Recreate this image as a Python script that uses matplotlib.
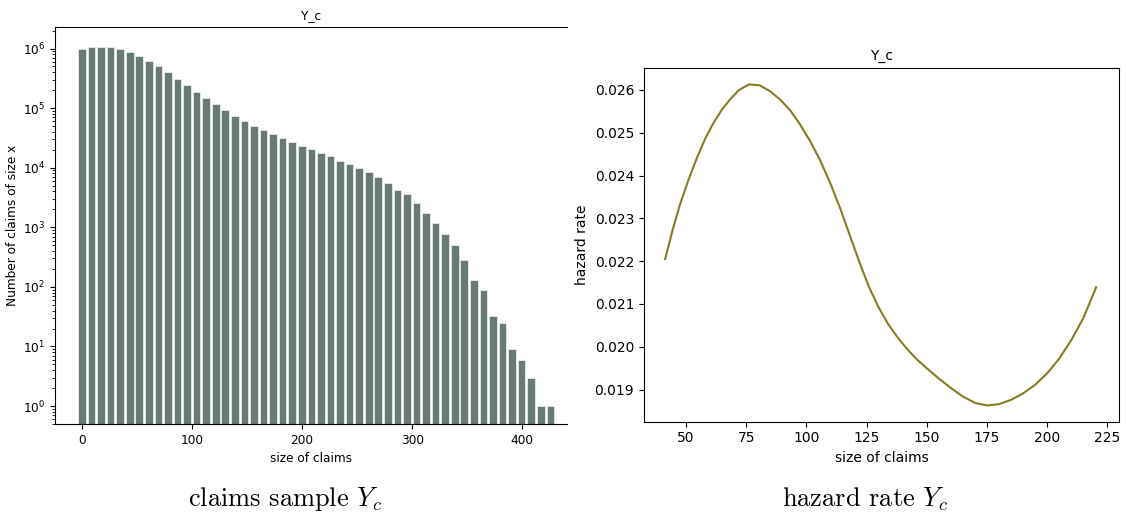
import numpy as np
import matplotlib
matplotlib.use('Agg')
import matplotlib.pyplot as plt

# Histogram of claim sizes: 50 bins of equal width starting at 0
max_claim = 434.2
n_bins = 50
claim_counts = [
    1.0e6, 1.07e6, 1.07e6, 1.05e6, 9.7e5, 8.8e5, 7.5e5, 6.2e5, 5.1e5, 4.0e5,
    3.1e5, 2.46e5, 1.9e5, 1.47e5, 1.16e5, 9.2e4, 7.3e4, 6.0e4, 5.1e4, 4.3e4,
    3.65e4, 3.1e4, 2.65e4, 2.32e4, 2.04e4, 1.77e4, 1.58e4, 1.32e4, 1.17e4, 1.0e4,
    8.5e3, 6.9e3, 5.6e3, 4.3e3, 3.6e3, 2.6e3, 1.77e3, 1.19e3, 775, 506,
    283, 129, 90, 32, 25, 9, 6, 3, 1, 1,
]

# Hazard rate curve
hazard_x = [41.3, 44.5, 47.5, 51, 54.4, 58, 61.3, 65, 68.3, 72, 76.2, 80.5,
            84.9, 89, 93.2, 97.3, 101.5, 105.6, 109.8, 114, 118, 122, 126,
            130, 134, 138, 142, 146, 150, 155, 160, 165, 170, 175, 180, 185,
            190, 195, 200, 205, 210, 215, 220.4]
hazard_y = [0.02205, 0.02275, 0.02333, 0.02390, 0.02440, 0.02487, 0.02522,
            0.02555, 0.02578, 0.02600, 0.02613, 0.02611, 0.02597, 0.02578,
            0.02553, 0.02520, 0.02481, 0.02437, 0.02384, 0.02324, 0.02261,
            0.02198, 0.02140, 0.02092, 0.02053, 0.02021, 0.01994, 0.01970,
            0.01950, 0.01926, 0.01904, 0.01884, 0.01869, 0.01863, 0.01866,
            0.01876, 0.01891, 0.01911, 0.01938, 0.01972, 0.02015, 0.02066,
            0.02139]

BAR_COLOR = '#677b73'
LINE_COLOR = '#887b22'

fig = plt.figure(figsize=(11.26, 5.2), dpi=100)

# Left: claims sample
ax1 = fig.add_axes([0.0488, 0.1846, 0.4547, 0.7635])
bin_w = max_claim / n_bins
pos = np.arange(n_bins) * bin_w
ax1.bar(pos, claim_counts, width=0.8 * bin_w, color=BAR_COLOR,
        edgecolor='#e8ecea', linewidth=0.6)
ax1.set_yscale('log')
ax1.set_ylim(0.5, 2.3e6)
ax1.set_xlim(-24.5, 440.6)
ax1.set_xticks([0, 100, 200, 300, 400])
ax1.spines['right'].set_visible(False)
ax1.tick_params(labelsize=8.7)
ax1.set_title('Y_c', fontsize=8.7)
ax1.set_xlabel('size of claims', fontsize=8.7)
ax1.set_ylabel('Number of claims of size x', fontsize=8.7, labelpad=3)

# Right: hazard rate
ax2 = fig.add_axes([0.5719, 0.189, 0.4221, 0.680])
ax2.plot(hazard_x, hazard_y, color=LINE_COLOR, linewidth=1.5)
ax2.set_xlim(32.5, 230)
ax2.set_ylim(0.01825, 0.02651)
ax2.set_xticks([50, 75, 100, 125, 150, 175, 200, 225])
ax2.set_title('Y_c', fontsize=10)
ax2.set_xlabel('size of claims', fontsize=10)
ax2.set_ylabel('hazard rate', fontsize=10)

plt.rcParams['mathtext.fontset'] = 'cm'
fig.text(0.253, 0.04, r'claims sample $Y_c$', fontname='cmr10', fontsize=19,
         ha='center', va='center')
fig.text(0.768, 0.04, r'hazard rate $Y_c$', fontname='cmr10', fontsize=19,
         ha='center', va='center')

fig.savefig('out.png', dpi=100)
